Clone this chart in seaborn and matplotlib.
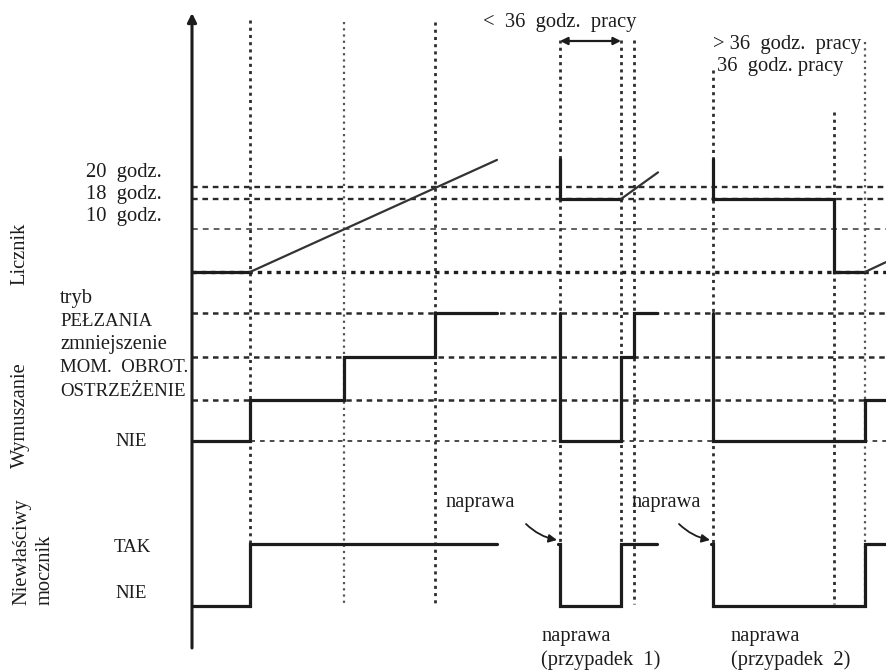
import numpy as np
import pandas as pd
import matplotlib
matplotlib.use("Agg")
import matplotlib.pyplot as plt
import seaborn as sns

sns.set_theme(style="white")
plt.rcParams["font.family"] = ["Liberation Serif", "DejaVu Serif"]

# ------------------------------------------------------------------ data
# moments at which something happens (time units along the horizontal axis)
event_times = [58, 152, 243, 368, 429, 442, 521, 642, 673]
t_end = 694

# Licznik – counter thresholds (hours)
counter_thresholds = [20, 18, 10, 0]
counter_threshold_labels = ["20 godz.", "18 godz.", "10 godz."]

# counter: held values (steps) and running ramps, hours
counter_hold_t = [[0, 58], [368, 368, 429], [521, 521, 642, 642, 673]]
counter_hold_h = [[0, 0], [26.6, 18, 18], [26.6, 18, 18, 0, 0]]
counter_ramp_t = [[58, 305], [429, 466], [673, 694]]
counter_ramp_h = [[0, 26.3], [18, 23.4], [0, 2.3]]

# Wymuszanie – inducement level (0 = NIE ... 3 = tryb PEŁZANIA), step-post
inducement_levels = ["NIE", "OSTRZEŻENIE", "zmniejszenie\nMOM. OBROT.", "tryb\nPEŁZANIA"]
inducement_t = [[0, 58, 152, 243, 305], [368, 368, 429, 442, 465], [521, 521, 673, 694]]
inducement_lvl = [[0, 1, 2, 3, 3], [3, 0, 2, 3, 3], [3, 0, 1, 1]]

# Niewłaściwy mocznik – 0 = NIE, 1 = TAK, step-post
urea_levels = ["NIE", "TAK"]
urea_t = [[0, 58, 305], [366, 368, 429, 465], [519, 521, 673, 694]]
urea_lvl = [[0, 1, 1], [1, 0, 1, 1], [1, 0, 1, 1]]

# ------------------------------------------------------------------ layout
X0 = -192                      # room for the labels left of the time axis
COUNTER_Y = ([0, 10, 18, 20], [272, 229, 199, 187])
INDUCE_Y = [441, 400, 357, 313]
UREA_Y = [606, 544]
VLINE_TOP = [20, 22, 22, 40, 40, 40, 70, 112, 42]
VLINE_BOTTOM = 604
INK = "#1c1c1c"


def counter_y(h):
    h = np.asarray(h, dtype=float)
    y = np.interp(h, *COUNTER_Y)
    over = h > 20
    y[over] = 187 - (h[over] - 20) * 4.3
    return y


def steps(t, v):
    xs, ys = [], []
    for i, (ti, vi) in enumerate(zip(t, v)):
        if i > 0:
            xs.append(ti)
            ys.append(v[i - 1])
        xs.append(ti)
        ys.append(vi)
    return xs, ys


fig = plt.figure(figsize=(8.86, 6.72), dpi=100)
ax = fig.add_axes([0, 0, 1, 1])

# ---- horizontal reference lines
h_styles = {
    20: dict(lw=1.7, dashes=(2.4, 2.0), color="#2a2a2a"),
    18: dict(lw=1.7, dashes=(2.4, 2.0), color="#2a2a2a"),
    10: dict(lw=1.3, dashes=(3.2, 2.8), color="#555555"),
    0: dict(lw=2.4, dashes=(1.3, 1.5), color="#1e1e1e"),
}
for h in counter_thresholds:
    st = h_styles[h]
    ax.plot([0, t_end], [counter_y([h])[0]] * 2, color=st["color"], lw=st["lw"],
            dashes=st["dashes"], zorder=1)
for i, y in enumerate(INDUCE_Y):
    light = i == 0
    ax.plot([0, t_end], [y, y], color="#4a4a4a" if light else "#2a2a2a",
            lw=1.4 if light else 1.8, dashes=(2.4, 2.6) if light else (2.2, 1.9), zorder=1)

# ---- vertical reference lines
for t, top in zip(event_times, VLINE_TOP):
    light = t in (152, 673)
    ax.plot([t, t], [top, VLINE_BOTTOM], color="#555555" if light else "#2e2e2e",
            lw=1.6 if light else 2.0, dashes=(1.0, 1.8) if light else (1.1, 1.5), zorder=1)

# ---- signal traces
rows = []
for seg, (t, h) in enumerate(zip(counter_hold_t, counter_hold_h)):
    for ti, yi in zip(t, counter_y(h)):
        rows.append(dict(t=ti, y=yi, seg=f"c{seg}"))
for seg, (t, lv) in enumerate(zip(inducement_t, inducement_lvl)):
    xs, ys = steps(t, lv)
    for ti, yi in zip(xs, ys):
        rows.append(dict(t=ti, y=INDUCE_Y[yi], seg=f"w{seg}"))
for seg, (t, lv) in enumerate(zip(urea_t, urea_lvl)):
    xs, ys = steps(t, lv)
    for ti, yi in zip(xs, ys):
        rows.append(dict(t=ti, y=UREA_Y[yi], seg=f"m{seg}"))
traces = pd.DataFrame(rows)
sns.lineplot(data=traces, x="t", y="y", units="seg", estimator=None, sort=False,
             color=INK, lw=2.3, legend=False, ax=ax, zorder=3,
             solid_joinstyle="miter")

ramp_rows = []
for seg, (t, h) in enumerate(zip(counter_ramp_t, counter_ramp_h)):
    for ti, yi in zip(t, counter_y(h)):
        ramp_rows.append(dict(t=ti, y=yi, seg=seg))
sns.lineplot(data=pd.DataFrame(ramp_rows), x="t", y="y", units="seg", estimator=None,
             sort=False, color="#333333", lw=1.6, legend=False, ax=ax, zorder=3)
ax.set_xlim(X0, t_end)
ax.set_ylim(672, 0)
ax.axis("off")

# ---- time axis with arrow
ax.annotate("", xy=(0, 13), xytext=(0, 648),
            arrowprops=dict(arrowstyle="-|>", lw=2.2, color=INK, mutation_scale=13,
                            shrinkA=0, shrinkB=0), zorder=4)

# ---- labels on the left
fs = 14.8
fs_caps = 13.6
for lab, y in zip(counter_threshold_labels, [172, 195, 217]):
    ax.text(162 + X0, y, lab.replace(" ", "  "), ha="right", va="center", fontsize=fs, color=INK)

left_lines = [("tryb", fs), ("PEŁZANIA", fs_caps), ("zmniejszenie", fs),
              ("MOM.  OBROT.", fs_caps), ("OSTRZEŻENIE", fs_caps)]
for (txt, size), y in zip(left_lines, [298, 321, 344, 368, 392]):
    ax.text(60 + X0, y, txt, ha="left", va="center", fontsize=size, color=INK)
ax.text(131 + X0, 442, inducement_levels[0], ha="center", va="center", fontsize=fs_caps, color=INK)
ax.text(132 + X0, 548, urea_levels[1], ha="center", va="center", fontsize=fs_caps, color=INK)
ax.text(131 + X0, 593, urea_levels[0], ha="center", va="center", fontsize=fs_caps, color=INK)

ax.text(20 + X0, 254, "Licznik", rotation=90, ha="center", va="center", fontsize=fs, color=INK)
ax.text(20 + X0, 415, "Wymuszanie", rotation=90, ha="center", va="center", fontsize=fs, color=INK)
ax.text(22 + X0, 605, "Niewłaściwy", rotation=90, ha="center", va="bottom", fontsize=fs, color=INK)
ax.text(45 + X0, 605, "mocznik", rotation=90, ha="center", va="bottom", fontsize=fs, color=INK)

# ---- annotations above the traces
ax.text(483 + X0, 22, "<  36  godz.  pracy", ha="left", va="center", fontsize=fs, color=INK)
ax.annotate("", xy=(event_times[4], 41), xytext=(event_times[3], 41),
            arrowprops=dict(arrowstyle="<|-|>", lw=1.6, color=INK, mutation_scale=11,
                            shrinkA=0, shrinkB=0), zorder=4)
ax.text(713 + X0, 44, "> 36  godz.  pracy", ha="left", va="center", fontsize=fs, color=INK)
ax.text(717 + X0, 66, "36  godz. pracy", ha="left", va="center", fontsize=fs, color=INK)

# repair markers
for tx, tip in [(446, event_times[3]), (632, event_times[6])]:
    ax.text(tx + X0, 503, "naprawa", ha="left", va="center", fontsize=fs, color=INK)
    ax.annotate("", xy=(tip - 3, 540), xytext=(tip - 34, 524),
                arrowprops=dict(arrowstyle="-|>", lw=1.3, color=INK, mutation_scale=12,
                                shrinkA=0, shrinkB=0,
                                connectionstyle="arc3,rad=0.15"), zorder=4)

for tx, case in [(541, "(przypadek  1)"), (731, "(przypadek  2)")]:
    ax.text(tx + X0, 637, "naprawa", ha="left", va="center", fontsize=fs, color=INK)
    ax.text(tx + X0, 660, case, ha="left", va="center", fontsize=fs, color=INK)

fig.savefig("out.png", dpi=100, facecolor="white")
